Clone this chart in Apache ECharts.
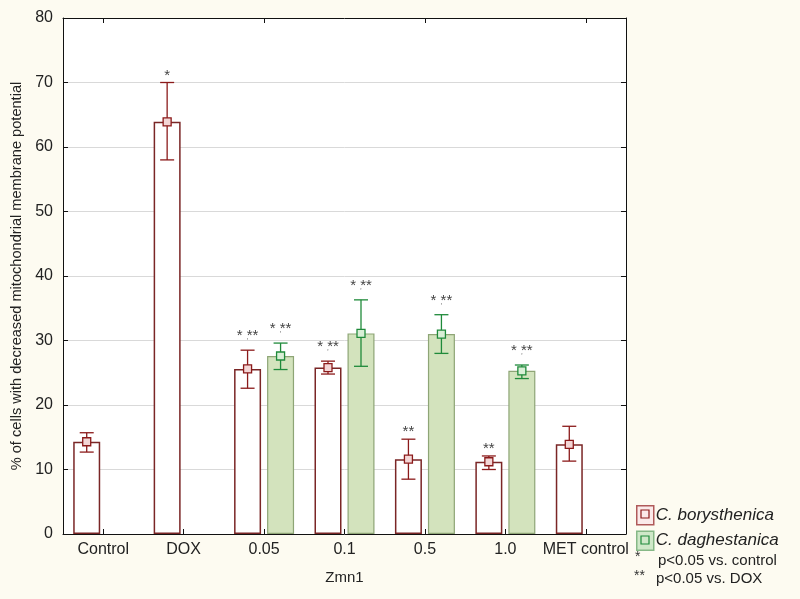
<!DOCTYPE html>
<html>
<head>
<meta charset="utf-8">
<script src="https://cdn.jsdelivr.net/npm/echarts@6/dist/echarts.min.js"></script>
<style>
  html,body{margin:0;padding:0;background:#fdfbf1;}
  #chart{width:800px;height:599px;}
</style>
</head>
<body>
<div id="chart"></div>
<script>
"use strict";

// categories on x axis
const categories = ['Control', 'DOX', '0.05', '0.1', '0.5', '1.0', 'MET control'];

// C. borysthenica : mean, lower / upper whisker, significance marks
const borysMean = [14.3, 63.9, 25.6, 25.8, 11.6, 11.2, 13.9];
const borysLow  = [12.7, 58.0, 22.6, 24.8, 8.5, 10.0, 11.3];
const borysHigh = [15.7, 70.0, 28.5, 26.8, 14.7, 12.1, 16.7];
const borysMarks = ['', '*', '* **', '* **', '**', '**', ''];

// C. daghestanica
const daghMean = [null, null, 27.6, 31.1, 31.0, 25.3, null];
const daghLow  = [null, null, 25.5, 26.0, 28.0, 24.1, null];
const daghHigh = [null, null, 29.6, 36.3, 34.0, 26.2, null];
const daghMarks = ['', '', '* **', '* **', '* **', '* **', ''];

const yTicks = {min: 0, max: 80, interval: 10};

const FONT = '"Liberation Sans", Arial, sans-serif';
const BAR_W = 27;
const GAP = 6;

function errData(mean, low, high){
  let out = [];
  mean.forEach(function(m, i){
    if (m == null) return;
    out.push([i, low[i], high[i], m]);
  });
  return out;
}

function errRender(marks, color, fill, side){
  return function(params, api){
    const i = api.value(0);
    const pLo = api.coord([i, api.value(1)]);
    const pHi = api.coord([i, api.value(2)]);
    const pM = api.coord([i, api.value(3)]);
    const x = pLo[0] + side * (BAR_W + GAP) / 2;
    const cap = 7;
    const st = {stroke: color, lineWidth: 1.3};
    let kids = [
      {type: 'line', shape: {x1: x, y1: pLo[1], x2: x, y2: pHi[1]}, style: st},
      {type: 'line', shape: {x1: x - cap, y1: pLo[1], x2: x + cap, y2: pLo[1]}, style: st},
      {type: 'line', shape: {x1: x - cap, y1: pHi[1], x2: x + cap, y2: pHi[1]}, style: st},
      {type: 'rect', shape: {x: x - 4, y: pM[1] - 4, width: 8, height: 8},
        style: {stroke: color, lineWidth: 1.3, fill: fill}}
    ];
    const mk = marks[i];
    if (mk){
      const two = mk.indexOf(' ') >= 0;
      kids.push({type: 'text', style: {
        text: mk, x: x, y: pHi[1] - (two ? 14 : 7),
        align: 'center', verticalAlign: 'middle',
        font: '15px ' + FONT, fill: '#444'
      }});
      if (two){
        kids.push({type: 'text', style: {
          text: '\u02bc', x: x, y: pHi[1] - 8,
          align: 'center', verticalAlign: 'middle',
          font: '8px ' + FONT, fill: '#555'
        }});
      }
    }
    return {type: 'group', children: kids};
  };
}

const chart = echarts.init(document.getElementById('chart'));

const axisLineBlack = {show: true, onZero: false, lineStyle: {color: '#111', width: 1}};
const tickIn = {show: true, inside: true, length: 5, alignWithLabel: true, lineStyle: {color: '#111'}};

chart.setOption({
  backgroundColor: '#fdfbf1',
  animation: false,
  grid: {left: 63, right: 174, top: 18, bottom: 65, show: true, backgroundColor: '#ffffff', borderWidth: 0},
  legend: {
    orient: 'vertical', left: 636, top: 505, padding: 0,
    itemWidth: 17, itemHeight: 19, itemGap: 5,
    textStyle: {fontFamily: FONT, fontSize: 17, fontStyle: 'italic', color: '#222', padding: [0, 0, 0, -3]},
    data: [
      {name: 'C. borysthenica', icon: 'rect', itemStyle: {color: '#fbeaea', borderColor: '#b05a5a', borderWidth: 1.5}},
      {name: 'C. daghestanica', icon: 'rect', itemStyle: {color: '#cfe8c8', borderColor: '#86b886', borderWidth: 1.5}}
    ]
  },
  graphic: [
    {type: 'rect', z: 100, shape: {x: 641, y: 510, width: 8, height: 8}, style: {fill: 'none', stroke: '#8b1a1a', lineWidth: 1.2}},
    {type: 'rect', z: 100, shape: {x: 641, y: 536, width: 8, height: 8}, style: {fill: 'none', stroke: '#1f8a3a', lineWidth: 1.2}},
    {type: 'text', left: 635, top: 550, style: {text: '*', font: '14px ' + FONT, fill: '#333'}},
    {type: 'text', left: 658, top: 553, style: {text: 'p<0.05 vs. control', font: '15px ' + FONT, fill: '#222'}},
    {type: 'text', left: 634, top: 569, style: {text: '**', font: '14px ' + FONT, fill: '#333'}},
    {type: 'text', left: 656, top: 571, style: {text: 'p<0.05 vs. DOX', font: '15px ' + FONT, fill: '#222'}}
  ],
  xAxis: [
    {
      type: 'category', data: categories, position: 'bottom',
      name: 'Zmn1', nameLocation: 'middle', nameGap: 36,
      nameTextStyle: {fontFamily: FONT, fontSize: 15, color: '#222'},
      axisLine: axisLineBlack, axisTick: tickIn,
      axisLabel: {fontFamily: FONT, fontSize: 16, color: '#222', margin: 8, interval: 0},
      splitLine: {show: false}
    },
    {
      type: 'category', data: categories, position: 'top',
      axisLine: axisLineBlack, axisTick: tickIn,
      axisLabel: {show: false}, splitLine: {show: false}
    }
  ],
  yAxis: [
    {
      type: 'value', min: yTicks.min, max: yTicks.max, interval: yTicks.interval, position: 'left',
      name: '% of cells with decreased mitochondrial membrane potential',
      nameLocation: 'middle', nameGap: 38, nameRotate: 90,
      nameTextStyle: {fontFamily: FONT, fontSize: 14.6, color: '#222'},
      axisLine: axisLineBlack,
      axisTick: {show: true, inside: true, length: 5, lineStyle: {color: '#111'}},
      axisLabel: {fontFamily: FONT, fontSize: 16, color: '#222', margin: 10},
      splitLine: {show: true, showMinLine: false, showMaxLine: false, lineStyle: {color: '#d9d9d9', width: 1}}
    },
    {
      type: 'value', min: yTicks.min, max: yTicks.max, interval: yTicks.interval, position: 'right',
      axisLine: axisLineBlack,
      axisTick: {show: true, inside: true, length: 5, lineStyle: {color: '#111'}},
      axisLabel: {show: false}, splitLine: {show: false}
    }
  ],
  series: [
    {
      name: 'C. borysthenica', type: 'bar', data: borysMean,
      barWidth: BAR_W, barGap: (GAP / BAR_W * 100) + '%',
      itemStyle: {color: '#ffffff', borderColor: '#7a2626', borderWidth: 1.5}
    },
    {
      name: 'C. daghestanica', type: 'bar', data: daghMean,
      barWidth: BAR_W,
      itemStyle: {color: '#d3e3bd', borderColor: '#8ea576', borderWidth: 1.2}
    },
    {
      type: 'custom', z: 5, data: errData(borysMean, borysLow, borysHigh),
      encode: {x: 0, y: [1, 2, 3]},
      renderItem: errRender(borysMarks, '#8b1a1a', '#f3d6d6', -1)
    },
    {
      type: 'custom', z: 5, data: errData(daghMean, daghLow, daghHigh),
      encode: {x: 0, y: [1, 2, 3]},
      renderItem: errRender(daghMarks, '#1f8a3a', '#d9efd6', 1)
    }
  ]
});
</script>
</body>
</html>
